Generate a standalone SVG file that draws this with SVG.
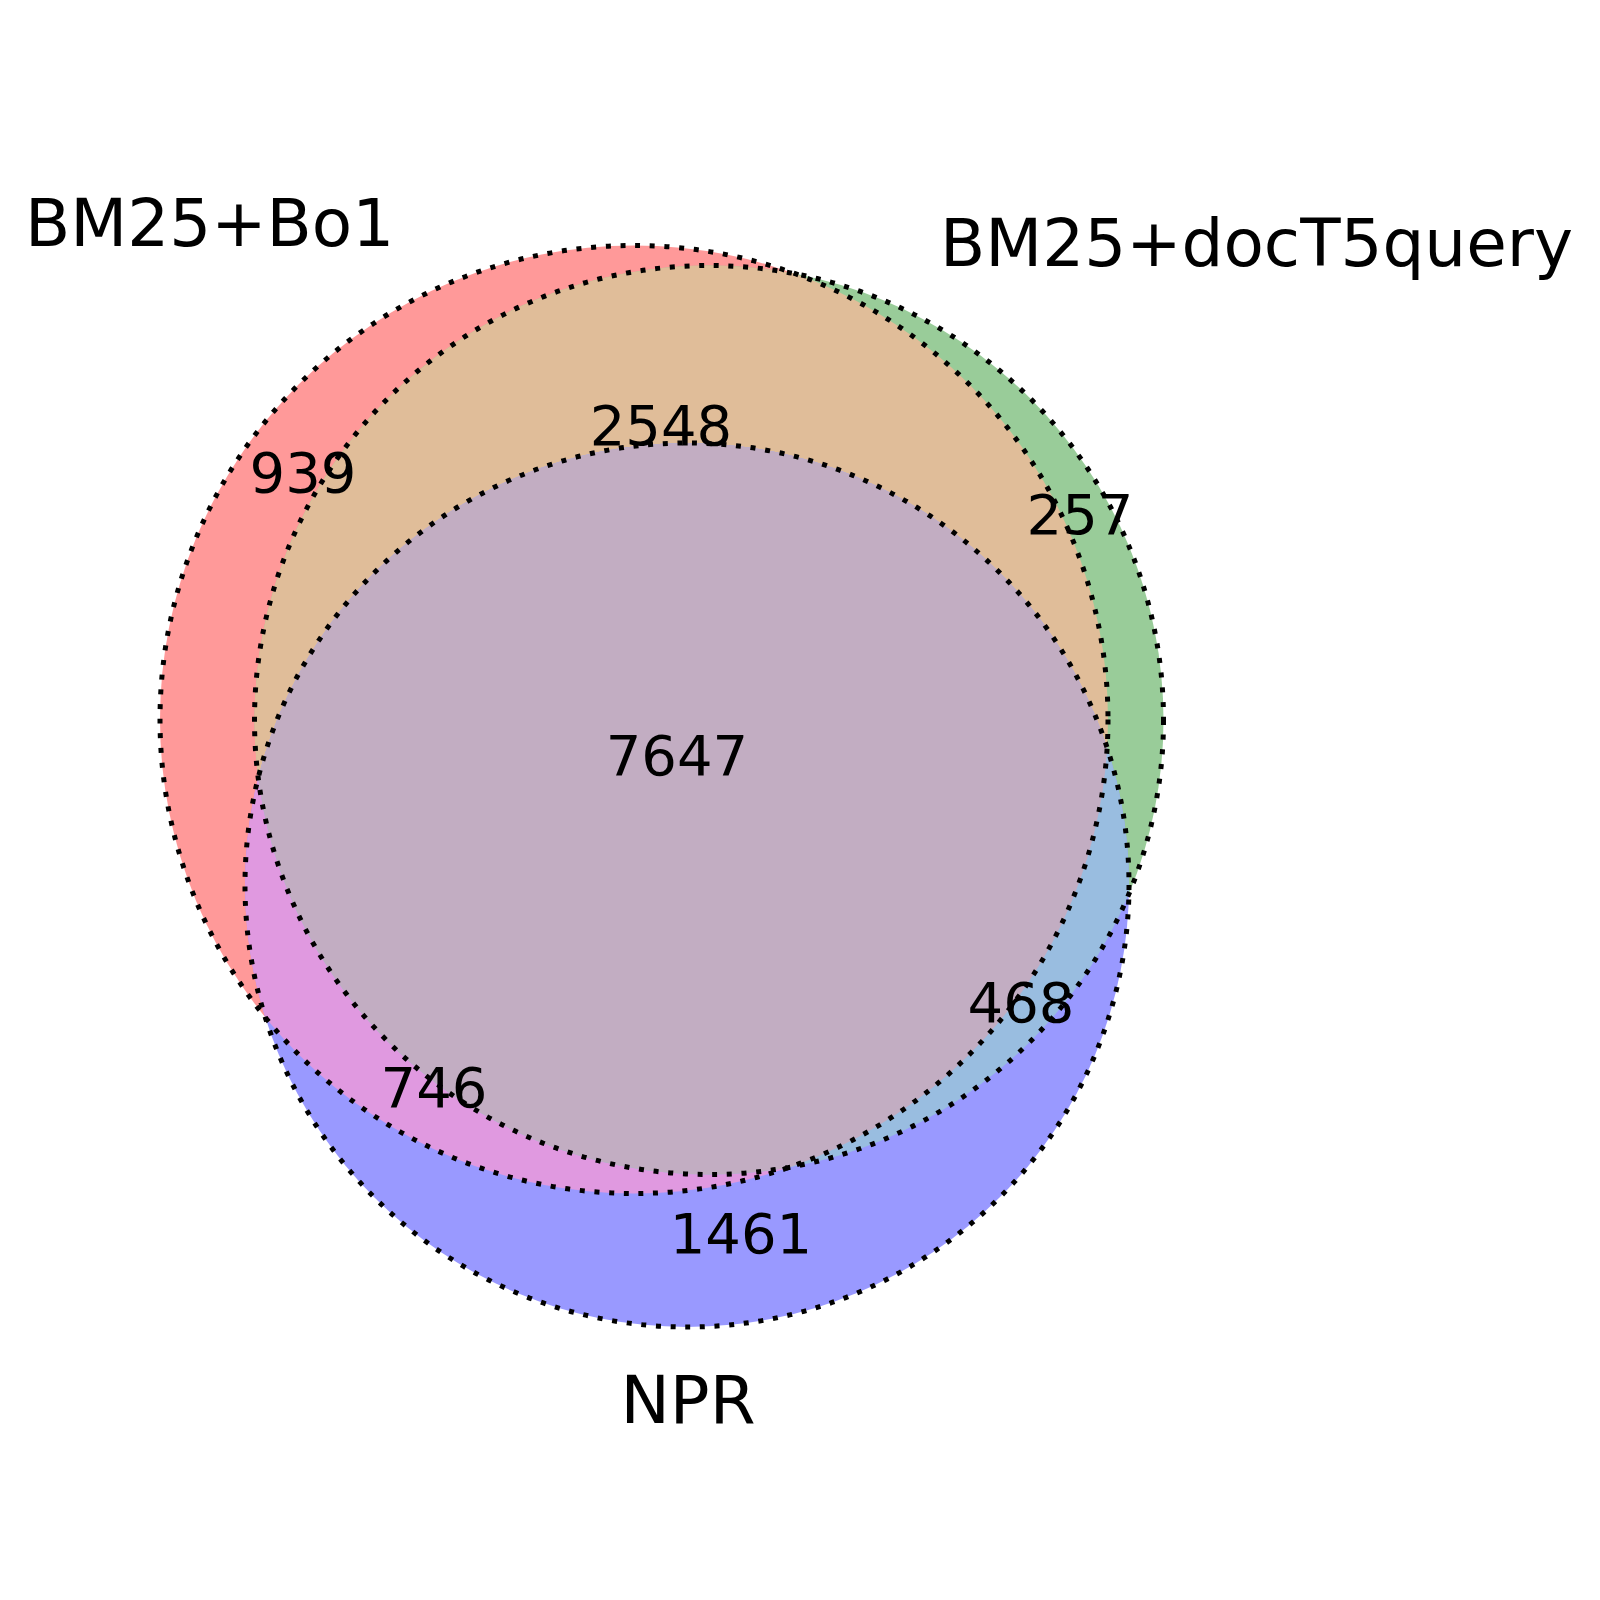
<svg xmlns="http://www.w3.org/2000/svg" width="1600" height="1600" viewBox="0 0 1600 1600">
<style>
.lbl{font-family:"DejaVu Sans",sans-serif;font-size:66px;fill:#000}
.num{font-family:"DejaVu Sans",sans-serif;font-size:56px;fill:#000;text-anchor:middle}
.edge{fill:none;stroke:#000;stroke-width:5;stroke-dasharray:5 9.7}
</style>
<defs>
<circle id="cA" cx="634" cy="719.5" r="474"/>
<circle id="cB" cx="709" cy="720" r="454.5"/>
<circle id="cC" cx="687" cy="885" r="442"/>
<clipPath id="clipA"><use href="#cA"/></clipPath>
<clipPath id="clipB"><use href="#cB"/></clipPath>
<clipPath id="clipC"><use href="#cC"/></clipPath>
</defs>
<rect width="1600" height="1600" fill="#fff"/>
<g id="regions">
<use href="#cA" fill="#ff9999"/>
<use href="#cB" fill="#99cc99"/>
<use href="#cC" fill="#9999ff"/>
<g clip-path="url(#clipA)"><use href="#cB" fill="#e0bd99"/></g>
<g clip-path="url(#clipA)"><use href="#cC" fill="#e099e0"/></g>
<g clip-path="url(#clipB)"><use href="#cC" fill="#99bde0"/></g>
<g clip-path="url(#clipA)"><g clip-path="url(#clipB)"><use href="#cC" fill="#c2adc2"/></g></g>
</g>
<g id="connectors">
<use id="edgeA" href="#cA" class="edge"/>
<use id="edgeB" href="#cB" class="edge"/>
<use id="edgeC" href="#cC" class="edge"/>
</g>
<g id="setA"><text class="lbl" x="25" y="246">BM25+Bo1</text></g>
<g id="setB"><text class="lbl" x="1573" y="266" text-anchor="end">BM25+docT5query</text></g>
<g id="setC"><text class="lbl" x="688" y="1423" text-anchor="middle">NPR</text></g>
<g id="counts">
<text class="num" x="303" y="492">939</text>
<text class="num" x="661" y="445">2548</text>
<text class="num" x="1080" y="534">257</text>
<text class="num" x="677" y="775">7647</text>
<text class="num" x="1021" y="1022">468</text>
<text class="num" x="434" y="1107">746</text>
<text class="num" x="741" y="1253">1461</text>
</g>
</svg>
